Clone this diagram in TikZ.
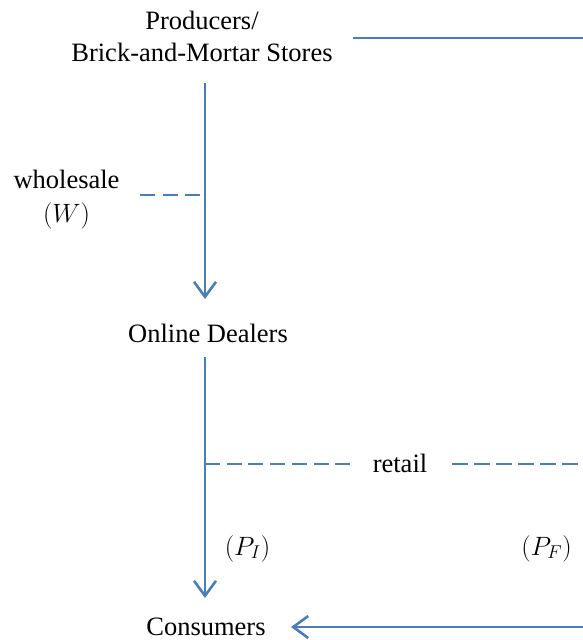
\documentclass[tikz,border=0pt]{standalone}
\usepackage{fix-cm}
\usepackage{fontspec}
\setmainfont{Liberation Serif}
\usetikzlibrary{arrows.meta}
\definecolor{lineblue}{HTML}{4A7EBB}
\tikzset{
  lbl/.style={inner sep=0pt, anchor=base, font=\fontsize{26.5}{32}\selectfont},
  conn/.style={draw=lineblue, line width=2.6pt},
  arr/.style={conn, -{Straight Barb[length=15pt,width=22pt,line width=2.6pt]}},
  dsh/.style={draw=lineblue, line width=2.4pt},
}
\begin{document}
\begin{tikzpicture}[x=1pt,y=-1pt]
\useasboundingbox (0,0) rectangle (583,640);
% nodes
\node[lbl] (prod1) at (202,29) {Producers/};
\node[lbl] (prod) at (202,61) {Brick-and-Mortar Stores};
\node[lbl] (dealers) at (208,342) {Online Dealers};
\node[lbl] (cons) at (206,635) {Consumers};
\node[lbl] (whole) at (66.5,188) {wholesale};
\node[lbl] (wsym) at (66.5,222) {$(W)$};
\node[lbl] (retail) at (400,472) {retail};
\node[lbl] (pi) at (247.5,555) {$(P_I)$};
\node[lbl] (pf) at (546.5,555) {$(P_F)$};
% helper coordinates
\coordinate (vtop1) at (205,83);
\coordinate (vbot1) at (205,299);
\coordinate (vtop2) at (205,357);
\coordinate (vbot2) at (205,598);
\coordinate (wtap) at (200,195);
\coordinate (wend) at (140,195);
\coordinate (rtap) at (205,464);
\coordinate (rl) at (350,464);
\coordinate (rr) at (452,464);
\coordinate (redge) at (583,464);
\coordinate (topr) at (583,38);
\coordinate (topl) at (353,38);
\coordinate (botr) at (583,627);
\coordinate (botl) at (291,627);
% connectors
\draw[conn] (topl) -- (topr);
\draw[arr] (vtop1) -- (vbot1);
\draw[arr] (vtop2) -- (vbot2);
\draw[arr] (botr) -- (botl);
\draw[dsh, dash pattern=on 15pt off 7.5pt] (wend) -- (wtap);
\draw[dsh, dash pattern=on 15pt off 6.7pt] (rtap) -- (rl);
\draw[dsh, dash pattern=on 16pt off 6pt] (rr) -- (redge);
\end{tikzpicture}
\end{document}
